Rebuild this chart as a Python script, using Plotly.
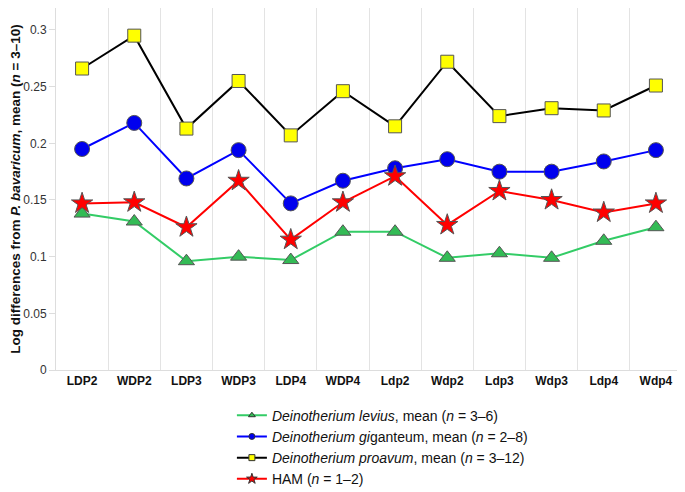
import plotly.graph_objects as go

categories = ["LDP2", "WDP2", "LDP3", "WDP3", "LDP4", "WDP4",
              "Ldp2", "Wdp2", "Ldp3", "Wdp3", "Ldp4", "Wdp4"]

levius = [0.138, 0.131, 0.096, 0.100, 0.097, 0.122,
          0.122, 0.099, 0.103, 0.099, 0.114, 0.126]
giganteum = [0.195, 0.218, 0.169, 0.194, 0.147, 0.167,
             0.178, 0.186, 0.175, 0.175, 0.184, 0.194]
proavum = [0.266, 0.295, 0.213, 0.255, 0.207, 0.246,
           0.215, 0.272, 0.224, 0.231, 0.229, 0.251]
ham = [0.147, 0.148, 0.126, 0.167, 0.115, 0.148,
       0.171, 0.128, 0.158, 0.150, 0.139, 0.147]

series = [
    ("<i>Deinotherium levius</i>, mean (<i>n</i> = 3–6)", levius,
     "#33cc66", "triangle-up", "#33bb55", 14),
    ("<i>Deinotherium gi</i>ganteum, mean (<i>n</i> = 2–8)", giganteum,
     "#0000ff", "circle", "#0000ee", 15),
    ("<i>Deinotherium proavum</i>, mean (<i>n</i> = 3–12)", proavum,
     "#000000", "square", "#ffff00", 13),
    ("HAM (<i>n</i> = 1–2)", ham,
     "#ff0000", "star", "#ff0000", 16),
]

fig = go.Figure()

# main traces
for name, vals, lc, sym, fc, sz in series:
    fig.add_trace(go.Scatter(
        x=categories, y=vals, mode="lines+markers", showlegend=False,
        line=dict(color=lc, width=2),
        marker=dict(symbol=sym, size=sz, color=fc,
                    line=dict(color="#555555", width=1)),
    ))

# legend-only traces with small markers
for name, vals, lc, sym, fc, sz in series:
    fig.add_trace(go.Scatter(
        x=[None], y=[None], mode="lines+markers", name=name,
        line=dict(color=lc, width=2),
        marker=dict(symbol=sym, size=8 if sym == "star" else 6, color=fc,
                    line=dict(color="#333333", width=1)),
    ))

fig.update_layout(
    width=685, height=492,
    margin=dict(l=48, r=11, t=0, b=130),
    plot_bgcolor="white", paper_bgcolor="white",
    font=dict(family="Liberation Sans, Arial, sans-serif", color="#222222"),
    showlegend=True,
    legend=dict(xref="paper", yref="container",
                x=0.281, y=0.204, xanchor="left", yanchor="top",
                font=dict(size=14, color="#111111"), tracegroupgap=0,
                itemwidth=30, bgcolor="rgba(0,0,0,0)"),
    xaxis=dict(
        type="category", tickson="boundaries", showgrid=True,
        gridcolor="#e3e3e3", gridwidth=1, automargin=False,
        showline=True, linecolor="#dddddd", linewidth=1,
        ticks="outside", ticklen=5, tickcolor="rgba(0,0,0,0)",
        tickfont=dict(size=12, color="#111111", weight="bold"),
        range=[-0.5, 11.5],
    ),
    yaxis=dict(
        range=[0, 0.3194], tickvals=[0, 0.05, 0.1, 0.15, 0.2, 0.25, 0.3],
        ticktext=["0", "0.05", "0.1", "0.15", "0.2", "0.25", "0.3"],
        showgrid=False, zeroline=False, automargin=False,
        showline=True, linecolor="#dddddd", linewidth=1,
        ticks="outside", ticklen=6, tickcolor="#dddddd",
        tickfont=dict(size=12, color="#333333"),
        title=dict(
            text="<b>Log differences from <i>P. bavaricum</i>, mean (<i>n</i> = 3–10)</b>",
            font=dict(size=13.5, color="#111111"), standoff=10),
    ),
)

fig.write_html("out.html")
